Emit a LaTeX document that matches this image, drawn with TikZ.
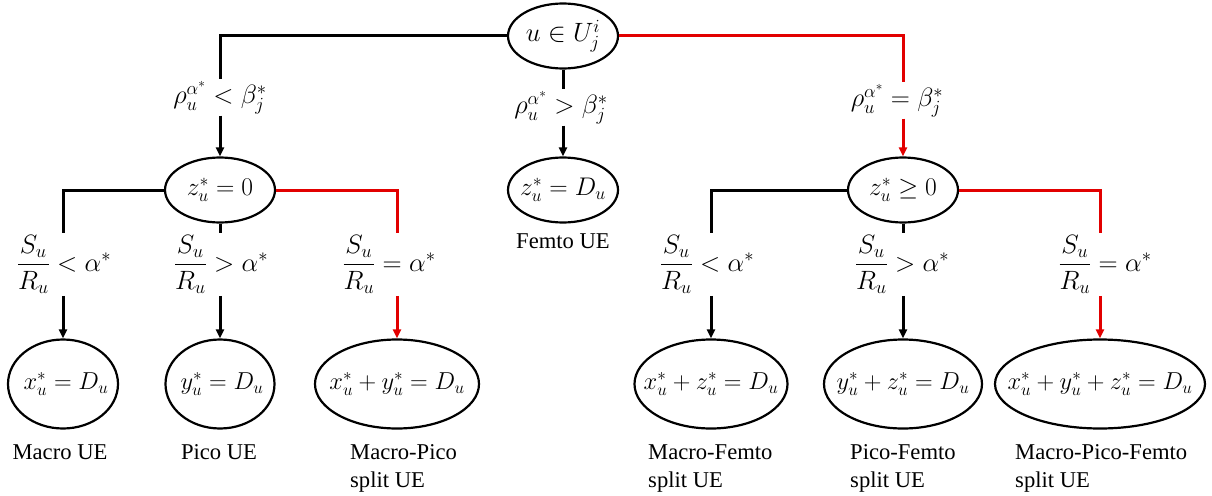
\RequirePackage{fix-cm}
\documentclass[tikz,border=0pt]{standalone}
\usepackage{amsmath}
\usepackage[no-math]{fontspec}
\setmainfont{Liberation Serif}
\usetikzlibrary{shapes.geometric,arrows.meta}
\definecolor{myred}{RGB}{226,0,0}
\newcommand\leaffs{\fontsize{24.5}{29}\selectfont}
\newcommand\midfs{\fontsize{25.5}{30}\selectfont}
\newcommand\condfs{\fontsize{26.5}{31}\selectfont}
\newcommand\uefs{\fontsize{22.6}{28}\selectfont}
\newcommand\ctr[1]{\makebox[0pt]{#1}}
\begin{document}
\begin{tikzpicture}[x=1pt,y=-1pt,
  ell/.style={draw,ellipse,line width=2.2pt,inner sep=0pt,minimum height=65pt,minimum width=110pt,font=\midfs},
  leaf/.style={ell,minimum height=89pt,font=\leaffs},
  cond/.style={inner sep=1.5pt,font=\condfs},
  fracl/.style={inner sep=2pt,font=\condfs},
  conn/.style={line width=3pt},
  arr/.style={conn,-{Triangle[length=9pt,width=8pt]}},
  ue/.style={font=\uefs,inner sep=0pt,align=left}
]
\useasboundingbox (0,0) rectangle (1212,495);
% ellipses
\node[ell,font=\condfs] (top) at (563,36) {\ctr{$u\in U_j^i$}};
\node[ell] (z0) at (220,190) {\ctr{$z_u^*=0$}};
\node[ell] (zd) at (563,190) {\ctr{$z_u^*=D_u$}};
\node[ell] (zg) at (903,190) {\ctr{$z_u^*\geq 0$}};
\node[leaf,minimum width=110pt] (lx) at (63,384) {\ctr{\hspace{6pt}$x_u^*=D_u$}};
\node[leaf,minimum width=109pt] (ly) at (220,384) {\ctr{\hspace{4pt}$y_u^*=D_u$}};
\node[leaf,minimum width=164pt] (lxy) at (397,384) {\ctr{$x_u^*+y_u^*=D_u$}};
\node[leaf,minimum width=153pt] (lxz) at (711,384) {\ctr{$x_u^*+z_u^*=D_u$}};
\node[leaf,minimum width=158pt] (lyz) at (903,384) {\ctr{$y_u^*+z_u^*=D_u$}};
\node[leaf,minimum width=210pt] (lxyz) at (1100,384) {\ctr{$x_u^*+y_u^*+z_u^*=D_u$}};
% conditions
\node[cond] (c1) at (220,97.5) {$\rho_u^{\alpha^*}<\beta_j^*$};
\node[cond] (c2) at (561,107.5) {$\rho_u^{\alpha^*}>\beta_j^*$};
\node[cond] (c3) at (897,100.5) {$\rho_u^{\alpha^*}=\beta_j^*$};
\node[fracl] (f1) at (64,264.5) {$\dfrac{S_u}{R_u}<\alpha^*$};
\node[fracl] (f2) at (221,264.5) {$\dfrac{S_u}{R_u}>\alpha^*$};
\node[fracl] (f3) at (389,264.5) {$\dfrac{S_u}{R_u}=\alpha^*$};
\node[fracl] (f4) at (707,264.5) {$\dfrac{S_u}{R_u}<\alpha^*$};
\node[fracl] (f5) at (902,264.5) {$\dfrac{S_u}{R_u}>\alpha^*$};
\node[fracl] (f6) at (1105,264.5) {$\dfrac{S_u}{R_u}=\alpha^*$};
% connectors top level
\draw[conn] (top.west) -| (z0.north |- c1.north);
\draw[arr] (c1.south -| z0.north) -- (z0.north);
\draw[conn] (top.south) -- (top.south |- c2.north);
\draw[arr] (c2.south -| zd.north) -- (zd.north);
\draw[conn,myred] (top.east) -| (zg.north |- c3.north);
\draw[arr,myred] (c3.south -| zg.north) -- (zg.north);
% left subtree
\draw[conn] (z0.west) -| (lx.north |- f1.north);
\draw[arr] (f1.south -| lx.north) -- (lx.north);
\draw[conn] (z0.south) -- (z0.south |- f2.north);
\draw[arr] (f2.south -| ly.north) -- (ly.north);
\draw[conn,myred] (z0.east) -| (lxy.north |- f3.north);
\draw[arr,myred] (f3.south -| lxy.north) -- (lxy.north);
% right subtree
\draw[conn] (zg.west) -| (lxz.north |- f4.north);
\draw[arr] (f4.south -| lxz.north) -- (lxz.north);
\draw[conn] (zg.south) -- (zg.south |- f5.north);
\draw[arr] (f5.south -| lyz.north) -- (lyz.north);
\draw[conn,myred] (zg.east) -| (lxyz.north |- f6.north);
\draw[arr,myred] (f6.south -| lxyz.north) -- (lxyz.north);
% UE labels
\node[ue,anchor=base] (tmacro) at (60,459) {Macro UE};
\node[ue,anchor=base] (tpico) at (219,459) {Pico UE};
\node[ue,anchor=base] (tfemto) at (563,248) {Femto UE};
\node[ue,anchor=base west] (tmp) at (350,487) {Macro-Pico\\split UE};
\node[ue,anchor=base west] (tmf) at (648,487) {Macro-Femto\\split UE};
\node[ue,anchor=base west] (tpf) at (850,487) {Pico-Femto\\split UE};
\node[ue,anchor=base west] (tmpf) at (1015,487) {Macro-Pico-Femto\\split UE};
\end{tikzpicture}
\end{document}
